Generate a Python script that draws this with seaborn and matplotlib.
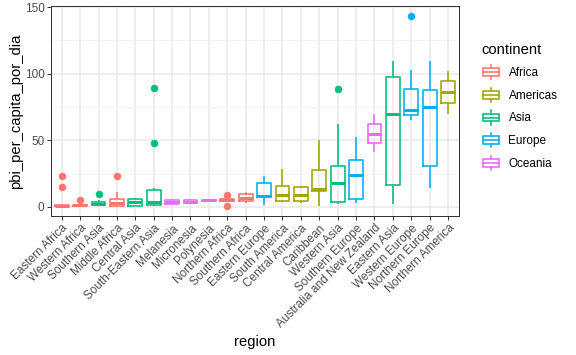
import pandas as pd
import seaborn as sns
import matplotlib.pyplot as plt
from matplotlib.patches import Patch, Rectangle
from matplotlib.lines import Line2D
from matplotlib.legend_handler import HandlerBase

plt.rcParams["font.family"] = ["Liberation Sans", "DejaVu Sans"]

# regions in the order shown (sorted by median)
regions = ["Eastern Africa", "Western Africa", "Southern Asia", "Middle Africa",
           "Central Asia", "South-Eastern Asia", "Melanesia", "Micronesia",
           "Polynesia", "Northern Africa", "Southern Africa", "Eastern Europe",
           "South America", "Central America", "Caribbean", "Western Asia",
           "Southern Europe", "Australia and New Zealand", "Eastern Asia",
           "Western Europe", "Northern Europe", "Northern America"]

continent_of = ["Africa", "Africa", "Asia", "Africa", "Asia", "Asia", "Oceania",
                "Oceania", "Oceania", "Africa", "Africa", "Europe", "Americas",
                "Americas", "Americas", "Asia", "Europe", "Oceania", "Asia",
                "Europe", "Europe", "Americas"]

continents = ["Africa", "Americas", "Asia", "Europe", "Oceania"]
colors = ["#F8766D", "#A3A500", "#00BF7D", "#00B0F6", "#E76BF3"]

# pbi per capita per day
eastern_africa = [0.3, 0.4, 0.5, 0.6, 0.8, 0.9, 1.0, 1.2, 1.4, 1.6, 2.5, 15, 23]
western_africa = [0.3, 0.5, 0.7, 0.9, 1.1, 1.3, 1.6, 2.5, 5.5]
southern_asia = [0.8, 1.0, 1.2, 2.0, 2.5, 3.2, 4.0, 5.0, 10]
middle_africa = [0.3, 0.5, 0.7, 1.8, 2.7, 4.0, 5.7, 11, 23]
central_asia = [0.8, 1.0, 3.5, 6.0, 6.8]
south_eastern_asia = [0.8, 1.0, 1.2, 1.5, 2.2, 3.0, 3.5, 6.0, 10, 13, 14, 48, 89.5]
melanesia = [2.3, 2.5, 3.7, 5.0, 5.5]
micronesia = [2.5, 2.7, 4.0, 5.0, 5.6]
polynesia = [4.3, 4.6, 5.0, 5.5, 6.0]
northern_africa = [1.0, 3.5, 4.8, 5.2, 5.5, 6.0, 6.3, 7.5, 9.0]
southern_africa = [3.0, 4.3, 7.0, 10.0, 11.0]
eastern_europe = [1.5, 7.3, 8.2, 17.8, 23.0]
south_america = [4.0, 4.3, 8.8, 15.8, 28.5]
central_america = [3.3, 4.3, 8.8, 15.0, 16.0]
caribbean = [1.0, 12.3, 13.3, 27.8, 50.0]
western_asia = [2.3, 3.0, 3.75, 10, 18, 25, 31, 62, 88.5]
southern_europe = [2.8, 5.75, 24.3, 35.5, 52.5]
australia_nz = [41, 47.75, 55, 62.5, 69.5]
eastern_asia = [2.5, 16.25, 70, 97.5, 109.5]
western_europe = [65, 67, 68.75, 71, 73, 80, 88.25, 103, 143.5]
northern_europe = [14.5, 30.75, 75.25, 87.75, 109.5]
northern_america = [70, 78.25, 86.5, 94.5, 102]

values = [eastern_africa, western_africa, southern_asia, middle_africa,
          central_asia, south_eastern_asia, melanesia, micronesia, polynesia,
          northern_africa, southern_africa, eastern_europe, south_america,
          central_america, caribbean, western_asia, southern_europe,
          australia_nz, eastern_asia, western_europe, northern_europe,
          northern_america]

rows = []
for reg, cont, vals in zip(regions, continent_of, values):
    for v in vals:
        rows.append({"region": reg, "continent": cont, "pbi_per_capita_por_dia": v})
df = pd.DataFrame(rows)

palette = dict(zip(continents, colors))

fig, ax = plt.subplots(figsize=(8, 355 / 72), dpi=72)
fig.subplots_adjust(left=0.088, right=0.797, top=0.983, bottom=0.3915)

sns.boxplot(data=df, x="region", y="pbi_per_capita_por_dia", hue="continent",
            order=regions, hue_order=continents, palette=palette, dodge=False,
            fill=False, width=0.75, linewidth=1.6, showcaps=False,
            medianprops={"linewidth": 3.0},
            flierprops={"marker": "o", "markersize": 6.5}, legend=False, ax=ax)

# solid outlier dots like ggplot
for ln in ax.lines:
    if ln.get_marker() == "o":
        ln.set_markerfacecolor(ln.get_markeredgecolor())

ax.set_xlim(-0.6, len(regions) - 0.4)
ax.set_ylim(-6.8, 150.8)
ax.set_yticks([0, 50, 100, 150])
ax.set_yticks([25, 75, 125], minor=True)
ax.set_axisbelow(True)
ax.grid(which="major", color="#EBEBEB", linewidth=1.6)
ax.grid(which="minor", axis="y", color="#F2F2F2", linewidth=0.9)
ax.tick_params(axis="y", which="minor", length=0)
ax.tick_params(which="major", colors="#333333", length=3.7, width=1.0,
               labelsize=11.7, labelcolor="#4D4D4D", pad=2.5)
for s in ax.spines.values():
    s.set_color("#333333")
    s.set_linewidth(1.0)
plt.setp(ax.get_xticklabels(), rotation=45, ha="right", rotation_mode="anchor")
ax.set_xlabel("region", fontsize=14.7, labelpad=4)
ax.set_ylabel("pbi_per_capita_por_dia", fontsize=14.7, labelpad=2)


class BoxKey(HandlerBase):
    def create_artists(self, legend, orig, xdescent, ydescent, width, height,
                       fontsize, trans):
        c = orig.get_edgecolor()
        x0, y0 = -xdescent, -ydescent
        cx = x0 + width / 2
        box = Rectangle((x0 + width * 0.1, y0 + height * 0.25), width * 0.8,
                        height * 0.5, facecolor="white", edgecolor=c,
                        linewidth=1.6, transform=trans)
        med = Line2D([x0 + width * 0.1, x0 + width * 0.9],
                     [y0 + height / 2] * 2, color=c, linewidth=1.6, transform=trans)
        w1 = Line2D([cx, cx], [y0 + height * 0.05, y0 + height * 0.25],
                    color=c, linewidth=1.6, transform=trans)
        w2 = Line2D([cx, cx], [y0 + height * 0.75, y0 + height * 0.95],
                    color=c, linewidth=1.6, transform=trans)
        return [box, med, w1, w2]


handles = [Patch(facecolor="white", edgecolor=c) for c in colors]
leg = fig.legend(handles, continents, handler_map={Patch: BoxKey()},
                 title="continent", loc="upper left",
                 bbox_to_anchor=(481 / 576, 1 - 43 / 355), frameon=False,
                 fontsize=11.7, title_fontsize=14.7, handlelength=1.75,
                 handleheight=1.7, labelspacing=0.6, handletextpad=0.6,
                 borderaxespad=0, borderpad=0)
leg._legend_box.align = "left"

fig.savefig("out.png", dpi=72)
